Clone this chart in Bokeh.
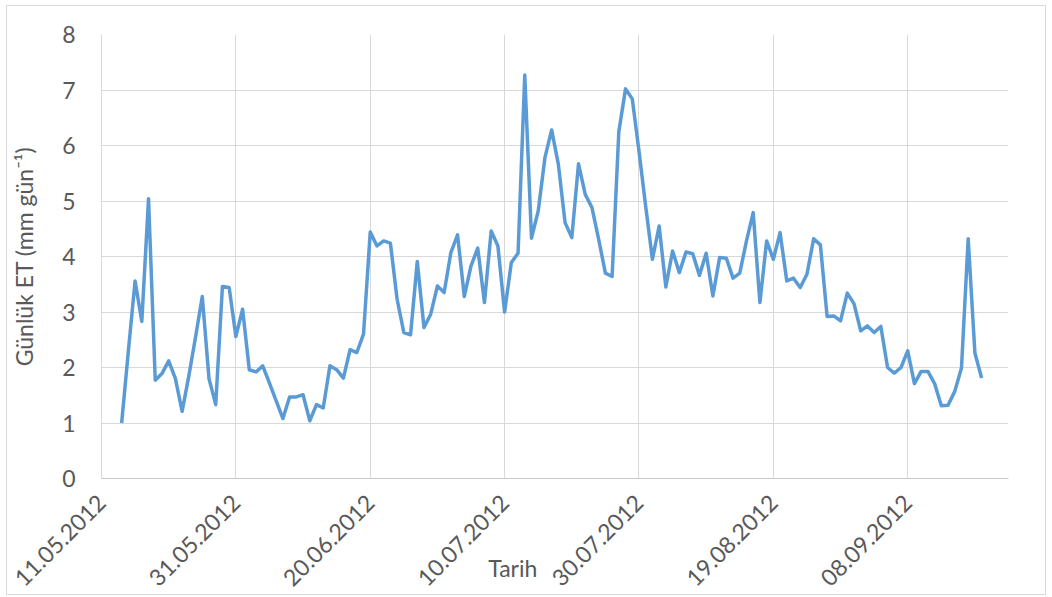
import math
import pandas as pd
from bokeh.plotting import figure
from bokeh.models import Range1d, FixedTicker, DatetimeTickFormatter, Label, ColumnDataSource
from bokeh.embed import file_html
from bokeh.resources import INLINE

# ---- data ----
axis_start = "2012-05-11"
axis_end = "2012-09-23"
first_date = "2012-05-14"   # daily series
et_values = [
    1.00, 2.30, 3.56, 2.83, 5.04, 1.77, 1.89, 2.12, 1.80, 1.21,
    1.85, 2.55, 3.28, 1.80, 1.33, 3.46, 3.44, 2.56, 3.05, 1.96,
    1.92, 2.03, 1.72, 1.40, 1.08, 1.47, 1.47, 1.51, 1.04, 1.33,
    1.27, 2.03, 1.96, 1.81, 2.32, 2.27, 2.60, 4.44, 4.19, 4.28,
    4.24, 3.23, 2.63, 2.59, 3.91, 2.72, 2.96, 3.47, 3.35, 4.07,
    4.39, 3.28, 3.83, 4.15, 3.17, 4.46, 4.19, 3.00, 3.89, 4.06,
    7.27, 4.33, 4.82, 5.78, 6.28, 5.66, 4.61, 4.34, 5.67, 5.12,
    4.88, 4.31, 3.70, 3.64, 6.25, 7.02, 6.84, 5.90, 4.90, 3.95,
    4.55, 3.45, 4.10, 3.71, 4.08, 4.05, 3.66, 4.06, 3.29, 3.98,
    3.97, 3.61, 3.70, 4.28, 4.79, 3.17, 4.28, 3.95, 4.43, 3.56,
    3.61, 3.44, 3.68, 4.32, 4.21, 2.92, 2.93, 2.84, 3.34, 3.15,
    2.66, 2.75, 2.63, 2.74, 2.00, 1.90, 2.00, 2.30, 1.71, 1.93,
    1.93, 1.71, 1.31, 1.32, 1.57, 1.99, 4.32, 2.26, 1.81,
]
tick_dates = ["2012-05-11", "2012-05-31", "2012-06-20", "2012-07-10",
              "2012-07-30", "2012-08-19", "2012-09-08"]
y_ticks = [0, 1, 2, 3, 4, 5, 6, 7, 8]
x_title = "Tarih"
y_title = "Günlük ET (mm gün⁻¹)"
x_title_at = "2012-07-11 05:00"

dates = pd.date_range(first_date, periods=len(et_values), freq="D")
src = ColumnDataSource(dict(date=dates, et=et_values))


def ms(d):
    return (pd.Timestamp(d) - pd.Timestamp("1970-01-01")) // pd.Timedelta("1ms")


FONT = "Lato"
FS = "23px"
TXT = "#595959"
GRID = "#d9d9d9"

p = figure(width=1040, height=590, x_axis_type="datetime",
           output_backend="svg", toolbar_location=None,
           x_range=Range1d(ms(axis_start), ms(axis_end)),
           y_range=Range1d(0, 8),
           min_border_left=93, min_border_right=39,
           min_border_top=28, min_border_bottom=116)
p.styles = {"border": "1px solid #d9d9d9", "margin-left": "6px", "margin-top": "5px"}
p.outline_line_color = None
p.background_fill_color = "white"
p.border_fill_color = "white"

p.line("date", "et", source=src, color="#5b9bd5", line_width=3.5,
       line_join="round")

xa = p.xaxis[0]
xa.ticker = FixedTicker(ticks=[ms(d) for d in tick_dates])
fmt = "%d.%m.%Y"
xa.formatter = DatetimeTickFormatter(
    microseconds=fmt, milliseconds=fmt, seconds=fmt, minsec=fmt,
    minutes=fmt, hourmin=fmt, hours=fmt, days=fmt, months=fmt, years=fmt)
xa.major_label_orientation = math.pi / 4
xa.major_label_text_font = FONT
xa.major_label_text_font_size = FS
xa.major_label_text_color = TXT
xa.major_label_standoff = 14
xa.major_tick_line_color = None
xa.minor_tick_line_color = None
xa.axis_line_color = "#c8c8c8"
xa.axis_line_width = 1

ya = p.yaxis[0]
ya.ticker = FixedTicker(ticks=y_ticks)
ya.major_label_text_font = FONT
ya.major_label_text_font_size = FS
ya.major_label_text_color = TXT
ya.major_label_standoff = 20
ya.major_tick_line_color = None
ya.minor_tick_line_color = None
ya.axis_line_color = GRID
ya.axis_label = y_title
ya.axis_label_text_font = FONT
ya.axis_label_text_font_size = FS
ya.axis_label_text_font_style = "normal"
ya.axis_label_text_color = TXT
ya.axis_label_standoff = 21

p.xgrid.grid_line_color = GRID
p.ygrid.grid_line_color = GRID
p.xgrid.grid_line_width = 1
p.ygrid.grid_line_width = 1

# placed in a side panel so that it is not clipped to the frame
p.add_layout(Label(x=ms(x_title_at), y=-1.62, text=x_title,
                   text_font=FONT, text_font_size=FS, text_color=TXT,
                   text_align="center", text_baseline="middle"), "above")

open("out.html", "w").write(file_html(p, INLINE))
